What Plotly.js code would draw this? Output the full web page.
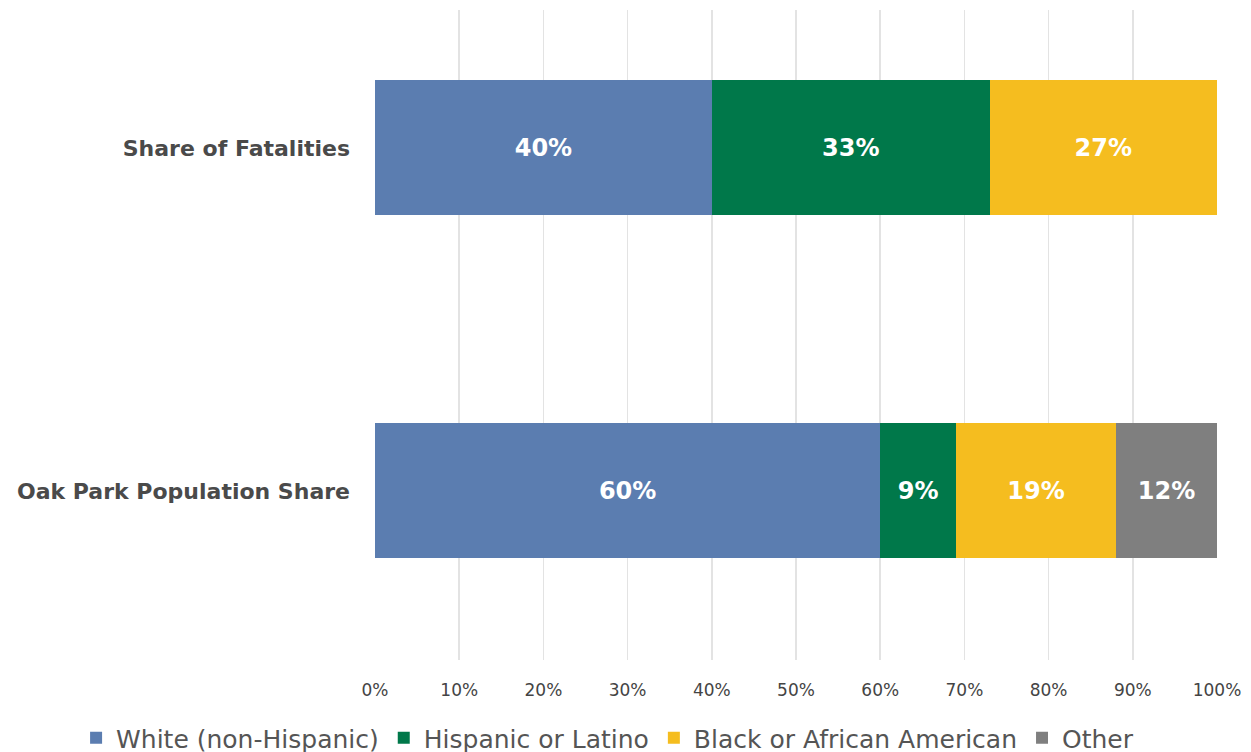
<!DOCTYPE html>
<html><head><meta charset="utf-8">
<script src="https://cdn.plot.ly/plotly-3.0.1.min.js"></script>
<style>html,body{margin:0;padding:0;background:#fff}#chart{width:1251px;height:752px}</style>
</head><body><div id="chart"></div>
<script>
const categories = ["Oak Park Population Share", "Share of Fatalities"];
const seriesNames = ["White (non-Hispanic)", "Hispanic or Latino", "Black or African American", "Other"];
const white = [60, 40];
const hispanic = [9, 33];
const black = [19, 27];
const other = [12, 0];
const tickValues = [0, 10, 20, 30, 40, 50, 60, 70, 80, 90, 100];
const tickLabels = ["0%", "10%", "20%", "30%", "40%", "50%", "60%", "70%", "80%", "90%", "100%"];
const colors = ["#5b7db0", "#00784a", "#f5bd1f", "#7f7f7f"];
const values = [white, hispanic, black, other];

const traces = values.map((v, i) => ({
  type: "bar",
  orientation: "h",
  name: seriesNames[i],
  y: categories,
  x: v,
  width: 0.394,
  marker: {color: colors[i], line: {width: 0}},
  text: v.map(d => d > 0 ? d + "%" : ""),
  textposition: "inside",
  insidetextanchor: "middle",
  textangle: 0,
  insidetextfont: {color: "#ffffff", size: 24, family: "DejaVu Sans", weight: 700},
  hoverinfo: "x+name"
}));

const layout = {
  barmode: "stack",
  width: 1251, height: 752,
  margin: {l: 375, r: 34, t: 10, b: 92, autoexpand: false},
  paper_bgcolor: "#fff", plot_bgcolor: "#fff",
  font: {family: "DejaVu Sans", color: "#444"},
  xaxis: {
    range: [0, 100], tickvals: tickValues, ticktext: tickLabels,
    showgrid: true, gridcolor: "#e3e3e3", gridwidth: 1.5, zeroline: false,
    showline: false, ticks: "", ticklabelstandoff: 18,
    tickfont: {size: 17, color: "#444"}
  },
  yaxis: {
    type: "category", range: [-0.493, 1.402], showgrid: false, zeroline: false,
    showline: false, ticks: "", ticklabelstandoff: 24,
    tickfont: {size: 22, color: "#4a4a4a", weight: 700}
  },
  showlegend: true,
  legend: {
    orientation: "h", xref: "paper", yref: "paper",
    x: -0.355, y: -0.12, xanchor: "left", yanchor: "middle",
    font: {size: 25, color: "#555"}, traceorder: "normal",
    itemwidth: 30, tracegroupgap: 0
  },
  bargap: 0
};
Plotly.newPlot("chart", traces, layout, {displayModeBar: false, staticPlot: true});
</script></body></html>
